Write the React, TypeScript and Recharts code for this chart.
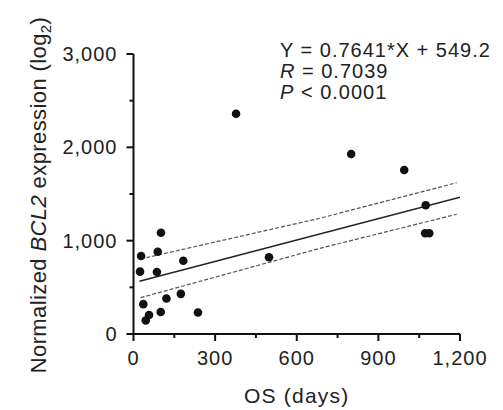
import { Scatter, ScatterChart, XAxis, YAxis } from 'recharts';

const FONT = '"Liberation Sans", Arial, Helvetica, sans-serif';

// OS (days) vs normalized BCL2 expression, one entry per patient
const osDays = [28, 24, 89, 101, 86, 183, 36, 45, 57, 100, 121, 174, 237, 498, 377, 800, 995, 1074, 1072, 1087];
const bcl2 = [835, 668, 882, 1085, 664, 785, 320, 145, 204, 236, 380, 430, 230, 822, 2360, 1929, 1757, 1379, 1080, 1080];

// fitted line and its 95% band
const fitX = [22, 1200];
const fitY = [566, 1466];
const bandX = [26, 685, 1188];
const bandUpper = [804, 1240, 1621];
const bandLower = [389, 918, 1283];

const xTicks = [0, 150, 300, 450, 600, 750, 900, 1050, 1200];
const yTicks = [0, 500, 1000, 1500, 2000, 2500, 3000];

const points = osDays.map((x, i) => ({ x, y: bcl2[i] }));
const fitLine = fitX.map((x, i) => ({ x, y: fitY[i] }));
const upperLine = bandX.map((x, i) => ({ x, y: bandUpper[i] }));
const lowerLine = bandX.map((x, i) => ({ x, y: bandLower[i] }));

const fmt = (v: number) => v.toLocaleString('en-US');

const XTick = ({ x, y, payload }: any) => {
    const major = payload.value % 300 === 0;
    return (
        <g>
            <line x1={x} x2={x} y1={y} y2={y + (major ? 7 : 4)} stroke="#111" strokeWidth={2} />
            {major && (
                <text x={x} y={y + 31} textAnchor="middle" fontSize={20} letterSpacing={1} fill="#222" fontFamily={FONT}>
                    {fmt(payload.value)}
                </text>
            )}
        </g>
    );
};

const YTick = ({ x, y, payload }: any) => {
    const major = payload.value % 1000 === 0;
    return (
        <g>
            <line x1={x} x2={x - (major ? 7 : 4)} y1={y} y2={y} stroke="#111" strokeWidth={2} />
            {major && (
                <text x={x - 16} y={y + 7} textAnchor="end" fontSize={20} letterSpacing={1} fill="#222" fontFamily={FONT}>
                    {fmt(payload.value)}
                </text>
            )}
        </g>
    );
};

const YLabel = () => (
    <text
        x={46}
        y={195}
        transform="rotate(-90, 46, 195)"
        textAnchor="middle"
        fontSize={22}
        letterSpacing={0.4}
        fill="#222"
        fontFamily={FONT}
    >
        Normalized <tspan fontStyle="italic">BCL2</tspan> expression (log
        <tspan fontSize={15} dy={5}>2</tspan>
        <tspan dy={-5}>)</tspan>
    </text>
);

const noDot = () => <g />;

export default function App() {
    return (
        <div style={{ position: 'absolute', left: 0, top: 0, width: 503, height: 410, background: '#fff' }}>
            <ScatterChart width={503} height={410} margin={{ top: 54, right: 43, bottom: 0, left: 0 }}>
                <XAxis
                    type="number"
                    dataKey="x"
                    domain={[0, 1200]}
                    ticks={xTicks}
                    allowDataOverflow
                    height={76}
                    tickSize={0}
                    tickMargin={0}
                    tickLine={false}
                    axisLine={{ stroke: '#111', strokeWidth: 2 }}
                    tick={<XTick />}
                    label={{
                        value: 'OS (days)',
                        position: 'insideBottom',
                        offset: 7,
                        fontSize: 21,
                        letterSpacing: 1.2,
                        fill: '#222',
                        fontFamily: FONT,
                    }}
                />
                <YAxis
                    type="number"
                    dataKey="y"
                    domain={[0, 3000]}
                    ticks={yTicks}
                    allowDataOverflow
                    width={133.5}
                    tickSize={0}
                    tickMargin={0}
                    tickLine={false}
                    axisLine={{ stroke: '#111', strokeWidth: 2 }}
                    tick={<YTick />}
                    label={<YLabel />}
                />
                <Scatter
                    data={upperLine}
                    line={{ stroke: '#555', strokeWidth: 1.2, strokeDasharray: '4 2' }}
                    shape={noDot}
                    isAnimationActive={false}
                />
                <Scatter
                    data={lowerLine}
                    line={{ stroke: '#555', strokeWidth: 1.2, strokeDasharray: '4 2' }}
                    shape={noDot}
                    isAnimationActive={false}
                />
                <Scatter
                    data={fitLine}
                    line={{ stroke: '#222', strokeWidth: 1.5 }}
                    shape={noDot}
                    isAnimationActive={false}
                />
                <Scatter
                    data={points}
                    fill="#111"
                    shape={(p: any) => <circle cx={p.cx} cy={p.cy} r={4.3} fill="#111" />}
                    isAnimationActive={false}
                />
            </ScatterChart>
            <svg width={503} height={410} style={{ position: 'absolute', left: 0, top: 0, pointerEvents: 'none' }}>
                <g fontFamily={FONT} fontSize={20} letterSpacing={1} fill="#222">
                    <text x={280} y={57}>Y = 0.7641*X + 549.2</text>
                    <text x={280} y={78}>
                        <tspan fontStyle="italic">R</tspan> = 0.7039
                    </text>
                    <text x={280} y={99}>
                        <tspan fontStyle="italic">P</tspan> &lt; 0.0001
                    </text>
                </g>
            </svg>
        </div>
    );
}
